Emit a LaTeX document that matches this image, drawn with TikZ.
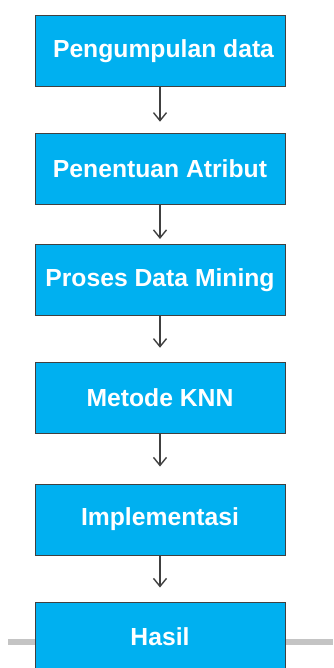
\documentclass[tikz,border=0pt]{standalone}
\usepackage{fontspec}
\setmainfont{Liberation Sans}
\usetikzlibrary{arrows.meta}
\definecolor{boxblue}{HTML}{00B0F0}
\definecolor{edgegray}{HTML}{404040}
\definecolor{railgray}{HTML}{C4C4C4}
\tikzset{
  stepbox/.style={draw=edgegray, line width=1pt, fill=boxblue, text=white,
    minimum width=250pt, minimum height=71pt, inner sep=0pt,
    font=\fontsize{24.7}{28}\selectfont\bfseries},
  flow/.style={draw=edgegray, line width=1.6pt,
    -{Straight Barb[length=8pt,width=13pt,line width=1.4pt]}}
}
\begin{document}
\begin{tikzpicture}[x=1pt,y=-1pt]
  \useasboundingbox (0,0) rectangle (333,668);
  \clip (0,0) rectangle (333,668);
  % horizontal rail behind the last step
  \coordinate (railL) at (8,642);
  \coordinate (railR) at (333,642);
  \draw[railgray, line width=6pt] (railL) -- (railR);
  % process steps
  \node[stepbox] (b1) at (160,50.75) {\hspace*{7pt}Pengumpulan data};
  \node[stepbox] (b2) at (160,168.75) {Penentuan Atribut};
  \node[stepbox] (b3) at (160,280) {Proses Data Mining};
  \node[stepbox] (b4) at (160,397.75) {Metode KNN};
  \node[stepbox] (b5) at (160,519.5) {Implementasi};
  \node[stepbox, minimum height=70pt] (b6) at (160,637) {Hasil};
  % connectors
  \draw[flow, shorten >=11pt] (b1) -- (b2);
  \draw[flow, shorten >=5pt] (b2) -- (b3);
  \draw[flow, shorten >=14pt] (b3) -- (b4);
  \draw[flow, shorten >=17pt] (b4) -- (b5);
  \draw[flow, shorten >=14pt] (b5) -- (b6);
\end{tikzpicture}
\end{document}
